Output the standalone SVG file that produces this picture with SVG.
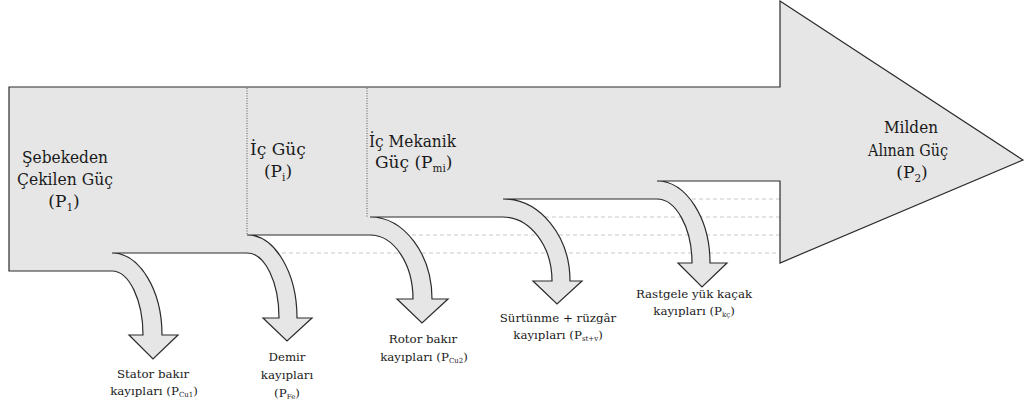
<svg xmlns="http://www.w3.org/2000/svg" width="1024" height="407" viewBox="0 0 1024 407">
<style>
.body{fill:#e6e6e6;stroke:#2b2b2b;stroke-width:1.2;stroke-linejoin:miter}
.dash{stroke:#c8c8c8;stroke-width:1;stroke-dasharray:4 3;fill:none}
.dot{stroke:#555;stroke-width:1;stroke-dasharray:1 1.5;fill:none}
.lbl{font-family:'DejaVu Serif','Liberation Serif',serif;fill:#1a1a1a}
.big{font-size:17px}
.small{font-size:11.8px}
.bs{font-size:10.5px}
.ss{font-size:7px}
</style>
<rect width="1024" height="407" fill="#ffffff"/>
<g id="connectors">
<line class="dash" x1="657" y1="199" x2="780" y2="199"/>
<line class="dash" x1="503" y1="217" x2="780" y2="217"/>
<line class="dash" x1="370" y1="235" x2="780" y2="235"/>
<line class="dash" x1="247" y1="253" x2="780" y2="253"/>
</g>
<g id="flow">
<path class="body" d="M 9 87 H 780 V 1 L 1023 160 L 780 263 V 181 H 657
C 686 181 710 218 710 263 H 727 L 702 287 L 678 263 H 692 C 692 228 676 199 657 199
H 503
C 540 199 570 236 570 281 H 582 L 557 304 L 533 281 H 552 C 552 246 530 217 503 217
H 370
C 404 217 432 254 432 299 H 448 L 422 323 L 397 299 H 413 C 413 264 394 235 370 235
H 247
C 274.5 235 297 272 297 318 H 312 L 287 341 L 263 318 H 279 C 279 282 265 253 247 253
H 112
C 139.5 253 162 290 162 335 H 178 L 153 359 L 129 335 H 143 C 143 300 129 271 112 271
H 9 Z"/>
<line class="dot" x1="247" y1="88" x2="247" y2="235"/>
<line class="dot" x1="367" y1="88" x2="367" y2="217"/>
</g>
<g class="lbl">
<g id="node-p1">
<text class="big" x="22" y="163" textLength="86" lengthAdjust="spacingAndGlyphs">Şebekeden</text>
<text class="big" x="17" y="185" textLength="96" lengthAdjust="spacingAndGlyphs">Çekilen Güç</text>
<text class="big" x="64" y="207" text-anchor="middle">(P<tspan class="bs" dy="4">1</tspan><tspan dy="-4">)</tspan></text>
</g>
<g id="node-pi">
<text class="big" x="250" y="155">İç Güç</text>
<text class="big" x="278" y="177" text-anchor="middle">(P<tspan class="bs" dy="4">i</tspan><tspan dy="-4">)</tspan></text>
</g>
<g id="node-pmi">
<text class="big" x="369" y="147" textLength="87" lengthAdjust="spacingAndGlyphs">İç Mekanik</text>
<text class="big" x="375" y="168">Güç (P<tspan class="bs" dy="4">mi</tspan><tspan dy="-4">)</tspan></text>
</g>
<g id="node-p2">
<text class="big" x="884" y="133" textLength="54" lengthAdjust="spacingAndGlyphs">Milden</text>
<text class="big" x="868" y="156" textLength="80" lengthAdjust="spacingAndGlyphs">Alınan Güç</text>
<text class="big" x="912" y="178" text-anchor="middle">(P<tspan class="bs" dy="4">2</tspan><tspan dy="-4">)</tspan></text>
</g>
<g id="loss-stator">
<text class="small" x="153" y="378" text-anchor="middle">Stator bakır</text>
<text class="small" x="154" y="395" text-anchor="middle">kayıpları (P<tspan class="ss" dy="2">Cu1</tspan><tspan dy="-2">)</tspan></text>
</g>
<g id="loss-demir">
<text class="small" x="287" y="361" text-anchor="middle">Demir</text>
<text class="small" x="287" y="379" text-anchor="middle">kayıpları</text>
<text class="small" x="287" y="397" text-anchor="middle">(P<tspan class="ss" dy="2">Fe</tspan><tspan dy="-2">)</tspan></text>
</g>
<g id="loss-rotor">
<text class="small" x="423" y="343" text-anchor="middle">Rotor bakır</text>
<text class="small" x="424" y="361" text-anchor="middle">kayıpları (P<tspan class="ss" dy="2">Cu2</tspan><tspan dy="-2">)</tspan></text>
</g>
<g id="loss-surtunme">
<text class="small" x="558" y="322" text-anchor="middle">Sürtünme + rüzgâr</text>
<text class="small" x="558" y="339" text-anchor="middle">kayıpları (P<tspan class="ss" dy="2">st+v</tspan><tspan dy="-2">)</tspan></text>
</g>
<g id="loss-rastgele">
<text class="small" x="694" y="298" text-anchor="middle">Rastgele yük kaçak</text>
<text class="small" x="694" y="315" text-anchor="middle">kayıpları (P<tspan class="ss" dy="2">kç</tspan><tspan dy="-2">)</tspan></text>
</g>
</g>
</svg>
